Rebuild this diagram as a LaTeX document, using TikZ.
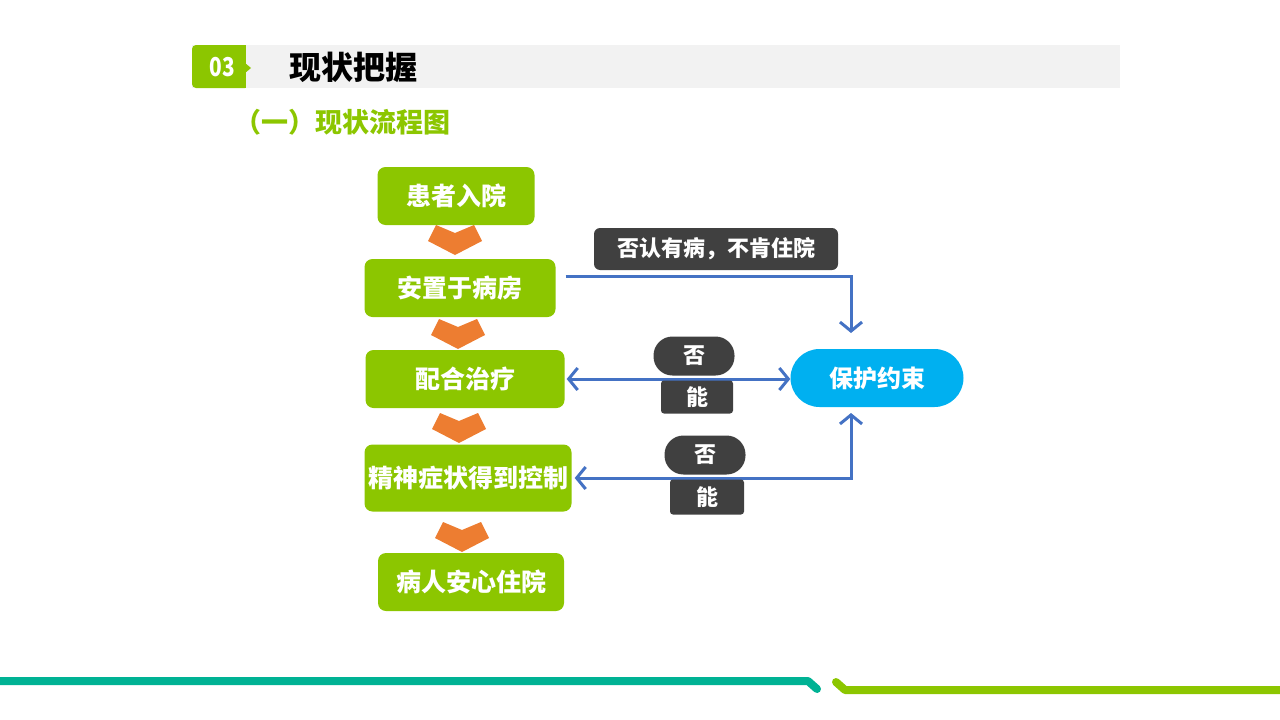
\documentclass[tikz,border=0pt]{standalone}
\usepackage{fontspec}
\setmainfont{Noto Sans CJK SC}
\usetikzlibrary{arrows.meta,calc}

\definecolor{leaf}{HTML}{8CC600}
\definecolor{ochre}{HTML}{ED7D31}
\definecolor{linkblue}{HTML}{4472C4}
\definecolor{sky}{HTML}{00B0F0}
\definecolor{slate}{HTML}{404040}
\definecolor{sea}{HTML}{00B294}
\definecolor{mist}{HTML}{F2F2F2}

\begin{document}
\begin{tikzpicture}[x=1pt,y=-1pt,
    stage/.style={fill=leaf, rounded corners=8pt, text=white, inner sep=0pt,
      minimum height=58pt, font=\bfseries\fontsize{25}{25}\selectfont},
    note/.style={fill=slate, text=white, inner sep=0pt,
      font=\bfseries\fontsize{22}{22}\selectfont},
    link/.style={linkblue, line width=3pt, >={Straight Barb[length=9pt,width=22pt]}},
    chev/.pic={\fill[ochre] (-19,-30) -- (0,-22) -- (19,-30) -- (27,-14) -- (0,0) -- (-27,-14) -- cycle;}]
  \useasboundingbox (0,0) rectangle (1280,720);

  % header
  \fill[mist] (192,45) rectangle (1120,88);
  \fill[leaf, rounded corners=4pt] (245,45) -- (192,45) -- (192,88) -- (245,88);
  \fill[leaf] (244,45) rectangle (246,88);
  \fill[leaf] (245,63) -- (251,68) -- (245,73) -- cycle;
  \node[text=white, font=\bfseries\fontsize{26}{26}\selectfont, xscale=0.8] (secno) at (222,67) {03};
  \node[font=\bfseries\fontsize{32}{32}\selectfont] (sectitle) at (353,67) {现状把握};
  \node[text=leaf, font=\bfseries\fontsize{27}{27}\selectfont] (subtitle) at (342,122) {（一）现状流程图};

  % orange arrows between the steps
  \pic at (455,255) {chev};
  \pic at (458,349) {chev};
  \pic at (459,443) {chev};
  \pic at (462,552) {chev};

  % steps
  \node[stage, minimum width=157pt] (admit) at (456,196) {患者入院};
  \node[stage, minimum width=191pt] (place) at (460,288) {安置于病房};
  \node[stage, minimum width=199pt] (cure) at (465,379) {配合治疗};
  \node[stage, minimum width=207pt, minimum height=67pt] (ctrl) at (468,478) {精神症状得到控制};
  \node[stage, minimum width=186pt] (settle) at (471,582) {病人安心住院};

  \node[fill=sky, text=white, rounded corners=29pt, minimum width=173pt, minimum height=58pt,
    inner sep=0pt, font=\bfseries\fontsize{24}{24}\selectfont] (restrain) at (877,378) {保护约束};

  % connectors
  \coordinate (upin) at (851,333);
  \coordinate (downin) at (851,413);
  \draw[link,->] ($(place.east)+(10,-12)$) -| (upin);
  \draw[link,<->,shorten <=2pt] (cure.east) -- (cure.east -| restrain.west);
  \draw[link,<->,shorten <=3pt] (ctrl.east) -| (downin);

  % labels on the connectors
  \node[note, rounded corners=6pt, minimum width=244pt, minimum height=42pt] (deny) at (716,249) {否认有病，不肯住院};
  \node[note, rounded corners=19pt, minimum width=81pt, minimum height=39pt] (no1) at (694,356) {否};
  \node[note, rounded corners=3pt, minimum width=72pt, minimum height=33pt] (yes1) at (697,397) {能};
  \node[note, rounded corners=19pt, minimum width=81pt, minimum height=39pt] (no2) at (705,455) {否};
  \node[note, rounded corners=3pt, minimum width=74pt, minimum height=35pt] (yes2) at (707,497) {能};

  % footer lines
  \draw[sea, line width=8pt, line cap=round, line join=round] (-10,681) -- (808,681) -- (817,689);
  \draw[leaf, line width=8pt, line cap=round, line join=round] (836,682) -- (845,690) -- (1290,690);
\end{tikzpicture}
\end{document}
